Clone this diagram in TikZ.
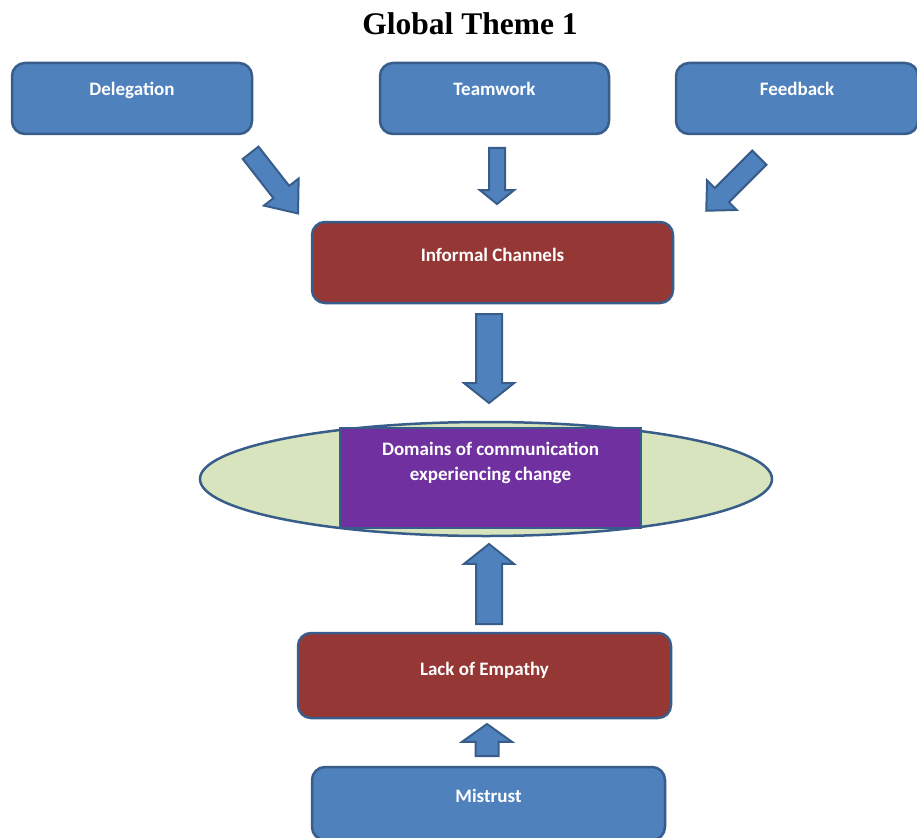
\documentclass[tikz,border=0pt]{standalone}
\usepackage{fontspec}
\setmainfont{Liberation Serif}
\newfontfamily\boxfont{Carlito}
\usetikzlibrary{shapes.geometric}
\usetikzlibrary{shapes.arrows}
\definecolor{boxblue}{HTML}{4F81BD}
\definecolor{boxedge}{HTML}{385D8A}
\definecolor{boxred}{HTML}{953735}
\definecolor{boxpurple}{HTML}{7030A0}
\definecolor{ellgreen}{HTML}{D7E4BD}

\begin{document}
\begin{tikzpicture}[x=1pt,y=-1pt,
  box/.style={draw=boxedge,line width=2.5pt,rounded corners=13pt,inner sep=0pt,text=white,
    font=\boxfont\bfseries\fontsize{19}{25}\selectfont,align=center,text height=12pt},
  bluebox/.style={box,fill=boxblue},
  redbox/.style={box,fill=boxred},
  blockarrow/.style={single arrow,draw=boxedge,fill=boxblue,line width=2pt,inner xsep=0pt,
    single arrow head indent=0pt,anchor=tail}]
\clip (0,0) rectangle (917,837);
\node[font=\bfseries\fontsize{31.5}{36}\selectfont] (title) at (470,24) {Global Theme 1};

\node[bluebox,minimum width=240,minimum height=71,text depth=18pt] (deleg) at (132,98.5) {Delegation};
\node[bluebox,minimum width=229,minimum height=71,text depth=18pt] (team) at (494.5,98.5) {Teamwork};
\node[bluebox,minimum width=242,minimum height=71,text depth=18pt] (feed) at (797,98.5) {Feedback};

\node[redbox,minimum width=361,minimum height=81,text depth=14pt] (inf) at (492.5,262.5) {Informal Channels};

\node[ellipse,draw=boxedge,fill=ellgreen,line width=2.5pt,inner sep=0pt,minimum width=572,minimum height=114] (domOuter) at (486,479) {};
\node[box,rounded corners=0pt,fill=boxpurple,minimum width=301,minimum height=100,text depth=8pt] (dom) at (490.5,478) {Domains of communication\\experiencing change};

\node[redbox,minimum width=373,minimum height=85,text depth=12pt] (lack) at (484.5,675.5) {Lack of Empathy};
\node[bluebox,minimum width=353,minimum height=73,text depth=14pt] (mist) at (488.5,803.5) {Mistrust};

\node[blockarrow,minimum height=77,inner ysep=9pt,single arrow head extend=12,single arrow tip angle=78,rotate=-52] (arrDeleg) at (250,152) {};
\node[blockarrow,minimum height=56,inner ysep=7pt,single arrow head extend=9,single arrow tip angle=102,rotate=-90] (arrTeam) at (497,147) {};
\node[blockarrow,minimum height=75,inner ysep=9pt,single arrow head extend=11,single arrow tip angle=87,rotate=-135] (arrFeed) at (760,157) {};
\node[blockarrow,minimum height=89,inner ysep=12pt,single arrow head extend=12,single arrow tip angle=103,rotate=-90] (arrInf) at (489,313) {};
\node[blockarrow,minimum height=80,inner ysep=12pt,single arrow head extend=12,single arrow tip angle=103,rotate=90] (arrLack) at (489,625) {};
\node[blockarrow,minimum height=32,inner ysep=10.5pt,single arrow head extend=13.5,single arrow tip angle=109,rotate=90] (arrMist) at (487,757) {};
\end{tikzpicture}
\end{document}
